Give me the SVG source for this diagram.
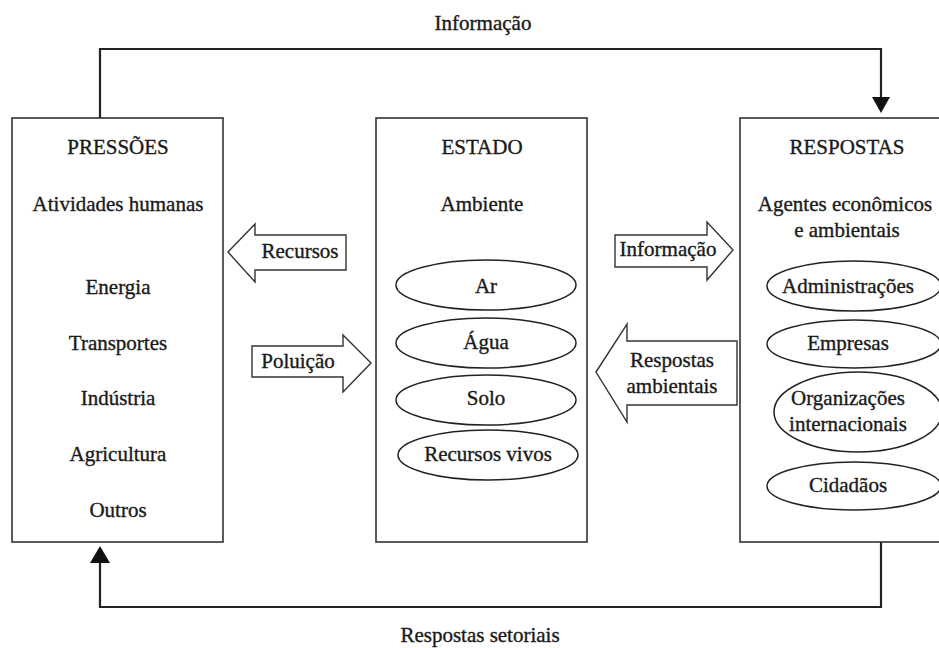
<svg xmlns="http://www.w3.org/2000/svg" width="939" height="648" viewBox="0 0 939 648">
  <style>
    text { font-family: "Liberation Serif", "Times New Roman", serif; font-size: 21px; fill: #1a1a1a; stroke: #1a1a1a; stroke-width: 0.35; text-anchor: middle; }
    .box { fill: #fff; stroke: #333; stroke-width: 1.6; }
    .oval { fill: #fff; stroke: #222; stroke-width: 1.5; }
    .block { fill: #fff; stroke: #333; stroke-width: 1.4; stroke-linejoin: miter; }
    .link { fill: none; stroke: #222; stroke-width: 2.2; }
    .head { fill: #111; }
  </style>

  <rect width="939" height="648" fill="#fff"/>

  <!-- feedback loops between the outer boxes -->
  <g id="connectors">
    <polyline class="link" points="100,118 100,49 881,49 881,100"/>
    <polygon class="head" points="872,97 890,97 881,113"/>
    <text x="483" y="30">Informação</text>

    <polyline class="link" points="881,542 881,607 100,607 100,560"/>
    <polygon class="head" points="90,563 110,563 100,546"/>
    <text x="480" y="642">Respostas setoriais</text>
  </g>

  <g id="pressoes">
    <rect class="box" x="12" y="118" width="211" height="424"/>
    <text x="118" y="154">PRESSÕES</text>
    <text x="118" y="211">Atividades humanas</text>
    <text x="118" y="294">Energia</text>
    <text x="118" y="350">Transportes</text>
    <text x="118" y="405">Indústria</text>
    <text x="118" y="461">Agricultura</text>
    <text x="118" y="517">Outros</text>
  </g>

  <g id="estado">
    <rect class="box" x="376" y="118" width="211" height="424"/>
    <text x="482" y="154">ESTADO</text>
    <text x="482" y="211">Ambiente</text>
    <ellipse class="oval" cx="486" cy="285" rx="90" ry="25"/>
    <text x="486" y="293">Ar</text>
    <ellipse class="oval" cx="486" cy="343" rx="90" ry="25"/>
    <text x="486" y="349">Água</text>
    <ellipse class="oval" cx="486" cy="400" rx="90" ry="25"/>
    <text x="486" y="405">Solo</text>
    <ellipse class="oval" cx="488" cy="455" rx="90" ry="25"/>
    <text x="488" y="461">Recursos vivos</text>
  </g>

  <g id="respostas">
    <rect class="box" x="740" y="118" width="210" height="424"/>
    <text x="847" y="154">RESPOSTAS</text>
    <text x="845" y="211">Agentes econômicos</text>
    <text x="847" y="237">e ambientais</text>
    <ellipse class="oval" cx="854" cy="286" rx="87" ry="25"/>
    <text x="848" y="293">Administrações</text>
    <ellipse class="oval" cx="854" cy="344" rx="87" ry="24"/>
    <text x="848" y="350">Empresas</text>
    <ellipse class="oval" cx="858" cy="412" rx="84" ry="40"/>
    <text x="848" y="405">Organizações</text>
    <text x="848" y="431">internacionais</text>
    <ellipse class="oval" cx="854" cy="486" rx="87" ry="24"/>
    <text x="848" y="492">Cidadãos</text>
  </g>

  <g id="fluxo-recursos">
    <polygon class="block" points="228,252 255,224 255,235 346,235 346,270 255,270 255,282"/>
    <text x="300" y="258">Recursos</text>
  </g>

  <g id="fluxo-poluicao">
    <polygon class="block" points="252,346 343,346 343,335 371,363 343,392 343,377 252,377"/>
    <text x="298" y="368">Poluição</text>
  </g>

  <g id="fluxo-informacao">
    <polygon class="block" points="615,235 707,235 707,222 733,250 707,280 707,267 615,267"/>
    <text x="668" y="256">Informação</text>
  </g>

  <g id="fluxo-respostas-ambientais">
    <polygon class="block" points="596,372 627,324 627,341 737,341 737,405 627,405 627,422"/>
    <text x="672" y="367">Respostas</text>
    <text x="672" y="393">ambientais</text>
  </g>
</svg>
